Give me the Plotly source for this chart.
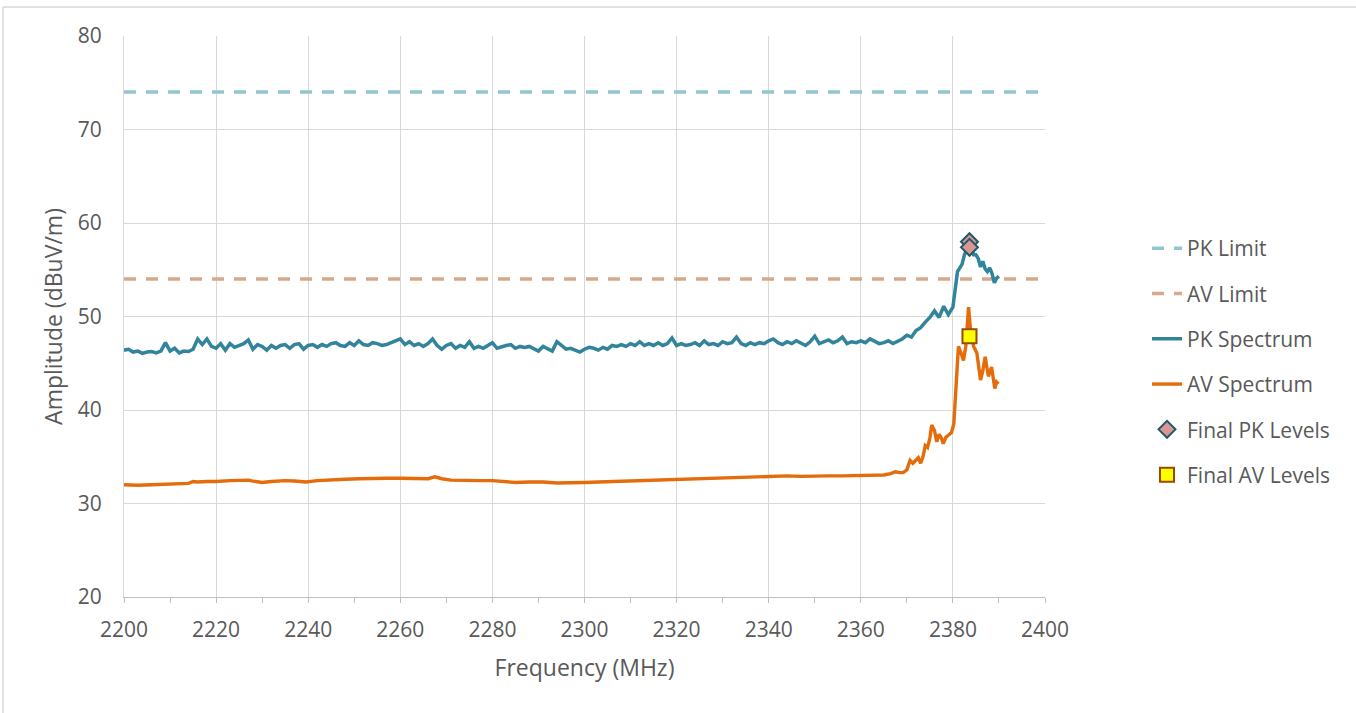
import plotly.graph_objects as go

# ---------------- data ----------------
pk_freq = list(range(2200, 2381)) + [2380.5, 2381, 2381.5, 2382, 2382.5, 2383, 2383.5, 2384,
                                      2384.5, 2385, 2385.5, 2386, 2386.5, 2387, 2387.5, 2388,
                                      2388.5, 2389, 2389.5, 2390]
pk_vals = [
    46.4, 46.5, 46.2, 46.3, 46.05, 46.2, 46.25, 46.1, 46.3, 47.2,   # 2200-2209
    46.3, 46.6, 46.1, 46.3, 46.25, 46.5, 47.6, 47.0, 47.6, 46.8,    # 2210-2219
    46.6, 47.1, 46.4, 47.1, 46.7, 46.9, 47.1, 47.5, 46.5, 47.0,     # 2220-2229
    46.8, 46.4, 46.9, 46.6, 46.9, 47.0, 46.6, 47.0, 47.1, 46.5,     # 2230-2239
    46.9, 47.0, 46.7, 47.0, 46.8, 47.1, 47.2, 46.9, 46.8, 47.2,     # 2240-2249
    46.9, 47.4, 47.0, 46.9, 47.2, 47.1, 46.9, 47.0, 47.2, 47.3,     # 2250-2259
    47.6, 47.0, 47.3, 46.9, 47.1, 46.8, 47.1, 47.6, 46.9, 46.5,     # 2260-2269
    46.9, 47.1, 46.6, 46.9, 46.7, 47.3, 46.6, 46.8, 46.6, 46.9,     # 2270-2279
    47.2, 46.6, 46.8, 46.9, 47.0, 46.6, 46.8, 46.7, 46.8, 46.5,     # 2280-2289
    46.3, 46.8, 46.6, 46.3, 47.3, 46.9, 46.5, 46.6, 46.4, 46.2,     # 2290-2299
    46.5, 46.7, 46.6, 46.4, 46.7, 46.5, 46.9, 46.8, 47.0, 46.8,     # 2300-2309
    47.1, 46.9, 47.3, 46.9, 47.1, 46.9, 47.2, 46.9, 47.1, 47.7,     # 2310-2319
    46.9, 47.1, 46.9, 47.0, 47.2, 46.9, 47.4, 47.0, 47.1, 46.9,     # 2320-2329
    47.3, 47.1, 47.2, 47.8, 47.1, 46.9, 47.2, 47.0, 47.2, 47.1,     # 2330-2339
    47.4, 47.6, 47.2, 47.0, 47.3, 47.1, 47.4, 47.2, 46.9, 47.3,     # 2340-2349
    47.9, 47.1, 47.3, 47.5, 47.2, 47.4, 47.8, 47.1, 47.3, 47.2,     # 2350-2359
    47.4, 47.2, 47.6, 47.3, 47.1, 47.2, 47.4, 47.1, 47.3, 47.6,     # 2360-2369
    48.0, 47.8, 48.5, 48.8, 49.4, 49.9, 50.6, 49.9, 51.1, 50.2,     # 2370-2379
    51.0,                                                           # 2380
    53.0, 54.8, 55.2, 55.6, 56.6, 57.2, 57.7, 57.5, 56.6, 56.6,
    56.2, 55.3, 55.9, 55.1, 54.8, 55.2, 54.6, 53.6, 54.1, 54.3,
]

av_freq = [2200, 2203, 2206, 2209, 2212, 2214, 2215, 2216, 2218, 2220, 2223, 2225, 2227,
           2228, 2230, 2232, 2235, 2237, 2239.5, 2242, 2245, 2248, 2251, 2254, 2257, 2260,
           2263, 2266, 2267.5, 2269, 2271, 2274, 2277, 2280, 2283, 2285, 2288, 2291, 2294,
           2297, 2300, 2303, 2306, 2309, 2312, 2315, 2318, 2321, 2324, 2327, 2330, 2333,
           2336, 2338, 2341, 2344, 2347, 2350, 2353, 2356, 2359, 2362, 2365, 2366.5, 2367.5,
           2368.5, 2369.2, 2370, 2370.7, 2371.3, 2372, 2372.5, 2373, 2373.5, 2374, 2374.5,
           2375, 2375.4, 2376, 2376.5, 2377, 2377.5, 2377.9, 2378.5, 2379, 2379.7, 2380.2,
           2380.6, 2381.2, 2381.7, 2382.3, 2382.8, 2383.4, 2383.9, 2384.5, 2385.2, 2385.6,
           2386, 2386.5, 2387, 2387.7, 2388.4, 2388.8, 2389.1, 2389.5, 2389.9]
av_vals = [32.0, 31.95, 32.0, 32.05, 32.1, 32.15, 32.35, 32.3, 32.35, 32.35, 32.45, 32.5, 32.5,
           32.4, 32.25, 32.35, 32.45, 32.4, 32.3, 32.45, 32.55, 32.6, 32.65, 32.7, 32.7, 32.7,
           32.65, 32.65, 32.85, 32.65, 32.5, 32.45, 32.45, 32.45, 32.3, 32.25, 32.3, 32.3, 32.2,
           32.2, 32.25, 32.3, 32.35, 32.4, 32.45, 32.5, 32.55, 32.6, 32.65, 32.7, 32.75, 32.8,
           32.8, 32.85, 32.95, 32.95, 32.9, 32.95, 32.95, 32.95, 33.0, 33.0, 33.05, 33.2, 33.4,
           33.3, 33.3, 33.6, 34.6, 34.3, 34.7, 34.9, 34.3, 35.0, 36.2, 36.0,
           37.0, 38.4, 37.8, 36.6, 37.4, 37.0, 36.4, 37.1, 37.3, 37.6, 38.5,
           42.5, 46.8, 46.2, 45.3, 46.8, 51.0, 48.2, 46.8, 46.1, 44.5,
           43.2, 44.2, 45.7, 43.6, 44.6, 43.3, 42.3, 43.0, 42.8]

limit_freq = [2200, 2400]
pk_limit = [74, 74]
av_limit = [54, 54]

final_pk_freq = [2383.6, 2383.6]
final_pk_vals = [58.0, 57.4]
final_av_freq = [2383.6]
final_av_vals = [47.9]

x_ticks = list(range(2200, 2401, 20))
y_ticks = list(range(20, 81, 10))

# ---------------- figure ----------------
FONT = "Open Sans"
TXT = "#595959"

fig = go.Figure()
fig.add_trace(go.Scatter(x=limit_freq, y=pk_limit, name="PK Limit", mode="lines",
                         line=dict(color="#92C5D2", width=3.5, dash="12px,10px")))
fig.add_trace(go.Scatter(x=limit_freq, y=av_limit, name="AV Limit", mode="lines",
                         line=dict(color="#D5A98A", width=3.5, dash="12px,10px")))
fig.add_trace(go.Scatter(x=pk_freq, y=pk_vals, name="PK Spectrum", mode="lines",
                         line=dict(color="#31849B", width=3.5)))
fig.add_trace(go.Scatter(x=av_freq, y=av_vals, name="AV Spectrum", mode="lines",
                         line=dict(color="#E46C0A", width=3.4)))
fig.add_trace(go.Scatter(x=final_pk_freq, y=final_pk_vals, name="Final PK Levels", mode="markers",
                         marker=dict(symbol="diamond", size=13, color="#D99694",
                                     line=dict(color="#215968", width=2))))
fig.add_trace(go.Scatter(x=final_av_freq, y=final_av_vals, name="Final AV Levels", mode="markers",
                         marker=dict(symbol="square", size=14, color="#FFFF00",
                                     line=dict(color="#984807", width=2))))

W, H = 1356, 713
L, R, T, B = 124, 1045, 36, 597


def px_x(p):
    return (p - L) / (R - L)


def px_y(p):
    return (B - p) / (B - T)


shapes = [
    dict(type="line", xref="paper", yref="paper", x0=px_x(3), x1=px_x(3), y0=px_y(7), y1=px_y(720),
         line=dict(color="#D9D9D9", width=1.5)),
    dict(type="line", xref="paper", yref="paper", x0=px_x(3), x1=px_x(1360), y0=px_y(7), y1=px_y(7),
         line=dict(color="#D9D9D9", width=1.5)),
]

fig.update_layout(
    width=W, height=H,
    margin=dict(l=L, r=W - R, t=T, b=H - B, autoexpand=False),
    paper_bgcolor="white", plot_bgcolor="white",
    font=dict(family=FONT, color=TXT, size=21),
    showlegend=True,
    legend=dict(x=px_x(1147), y=px_y(228), xanchor="left", yanchor="top",
                font=dict(family=FONT, size=21, color=TXT),
                tracegroupgap=15, bgcolor="rgba(0,0,0,0)", itemwidth=30),
    shapes=shapes,
    xaxis=dict(range=[2200, 2400], tickvals=x_ticks, ticktext=[str(v) for v in x_ticks],
               showgrid=True, gridcolor="#D9D9D9", gridwidth=1.3,
               showline=True, linecolor="#BFBFBF", linewidth=1.3,
               ticks="outside", ticklen=5, tickcolor="#BFBFBF", tickwidth=1.3,
               minor=dict(dtick=10, ticks="outside", ticklen=5, tickcolor="#BFBFBF",
                          tickwidth=1.3, showgrid=False),
               zeroline=False, mirror=False, ticklabelstandoff=9,
               tickfont=dict(family=FONT, size=21, color=TXT),
               title=dict(text="Frequency (MHz)", font=dict(family=FONT, size=23, color=TXT),
                          standoff=17)),
    yaxis=dict(range=[20, 80], tickvals=y_ticks, ticktext=[str(v) for v in y_ticks],
               showgrid=True, gridcolor="#D9D9D9", gridwidth=1.3,
               showline=True, linecolor="#D9D9D9", linewidth=1.3,
               ticks="", zeroline=False, ticklabelstandoff=17,
               tickfont=dict(family=FONT, size=21, color=TXT),
               title=dict(text="Amplitude (dBuV/m)", font=dict(family=FONT, size=23, color=TXT),
                          standoff=8)),
)

for i, tr in enumerate(fig.data):
    tr.legendgroup = "g%d" % i

fig.write_html("out.html")
